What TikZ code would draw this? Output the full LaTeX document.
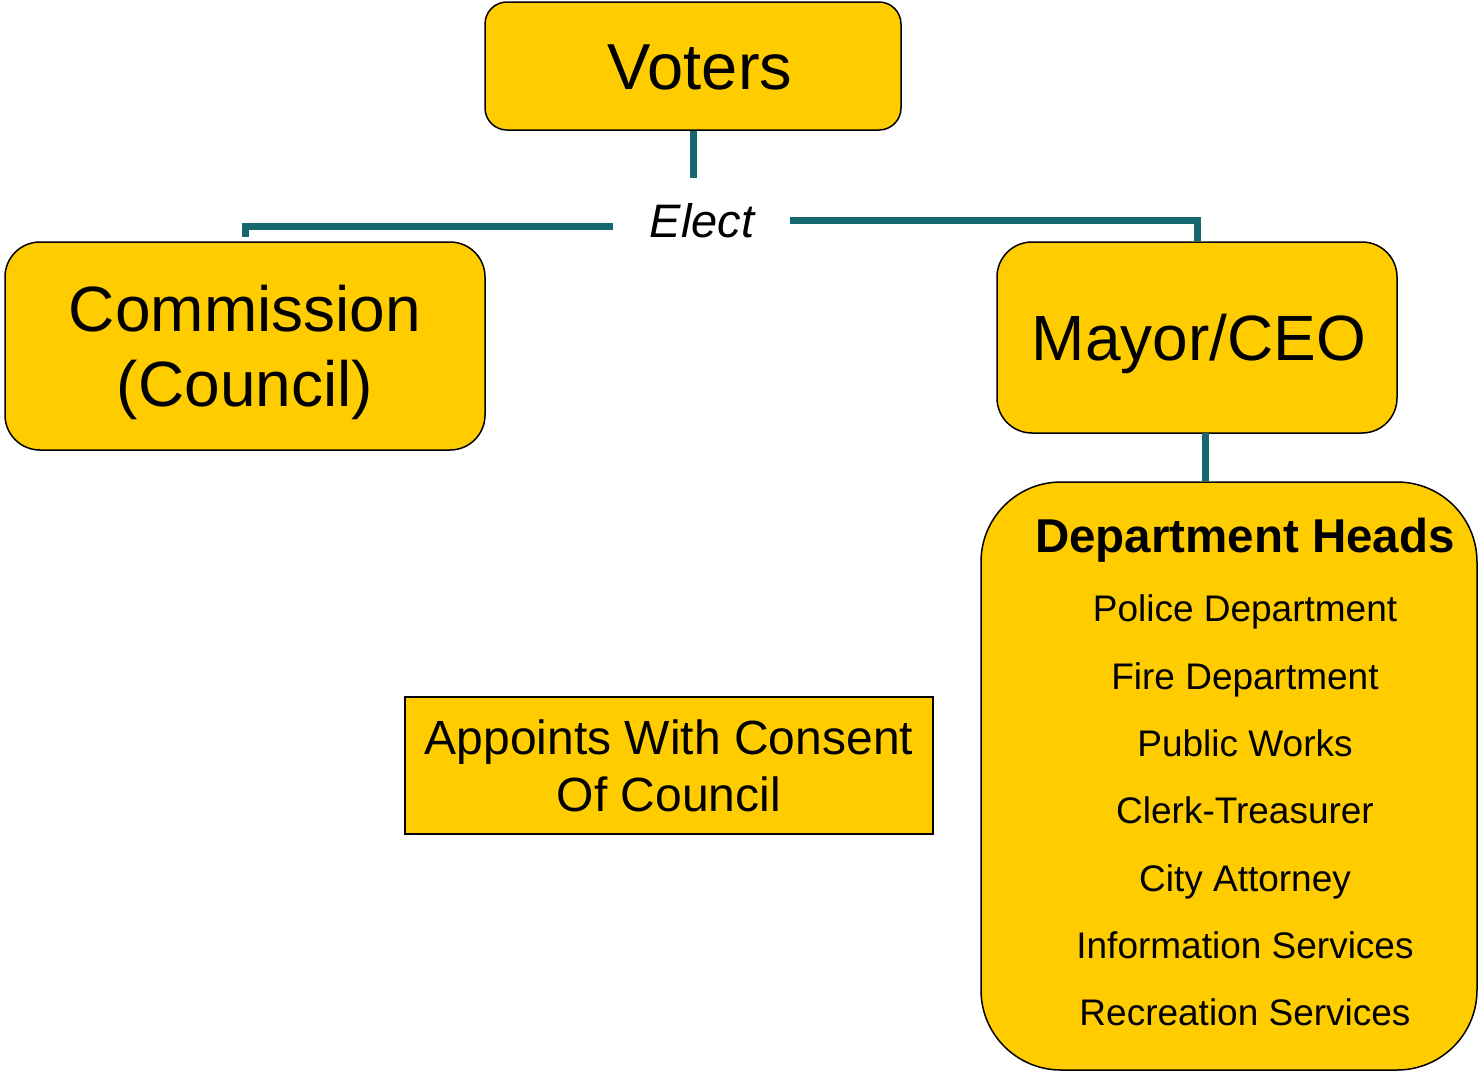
\documentclass[tikz,border=0pt]{standalone}
\usepackage{fontspec}
\setmainfont{Liberation Sans}
\definecolor{boxfill}{RGB}{255,204,0}
\definecolor{teal}{RGB}{22,104,110}
\begin{document}
\begin{tikzpicture}[x=1pt,y=-1pt,
  box/.style={draw=black, line width=1.5pt, fill=boxfill, rounded corners=#1, inner sep=0pt, align=center, text depth=0pt},
  box/.default=22pt,
  link/.style={draw=teal, line width=7pt},
  item/.style={font=\fontsize{37}{44}\selectfont, inner sep=0pt, text height=26.5pt, text depth=0pt}]
\useasboundingbox (0,0) rectangle (1481,1072);
\node[box=22pt, minimum width=416pt, minimum height=128pt, text height=46.5pt, font=\fontsize{65}{75}\selectfont] (voters) at (693,66) {\hspace*{14pt}Voters};
\node[box=35pt, minimum width=480pt, minimum height=208pt, text height=120.8pt, font=\fontsize{64}{75}\selectfont] (comm) at (245,346) {Commission\\(Council)};
\node[box=35pt, minimum width=400pt, minimum height=191pt, text height=45.8pt, font=\fontsize{64}{75}\selectfont] (mayor) at (1197,337.5) {\hspace*{4pt}Mayor/CEO};
\node[box=80pt, minimum width=496pt, minimum height=588pt] (dept) at (1229,776) {};
\node[draw=black, line width=2pt, fill=boxfill, minimum width=528pt, minimum height=137pt, inner sep=0pt, align=center, text height=91.4pt, text depth=0pt, font=\fontsize{48}{57}\selectfont] (appt) at (669,765.5) {Appoints With Consent\\Of Council};
\node[font=\fontsize{47}{47}\itshape\selectfont, inner sep=0pt, text height=33.7pt, text depth=0pt] (elect) at (702,220.5) {Elect};
\node[font=\fontsize{47.5}{50}\bfseries\selectfont, inner sep=0pt, text height=34pt, text depth=0pt] (dh) at (1245,535) {Department Heads};
\node[item] (i1) at (1245,608.5) {Police Department};
\node[item] (i2) at (1245,676) {Fire Department};
\node[item] (i3) at (1245,743) {Public Works};
\node[item] (i4) at (1245,810) {Clerk-Treasurer};
\node[item] (i5) at (1245,878) {City Attorney};
\node[item] (i6) at (1245,945) {Information Services};
\node[item] (i7) at (1245,1012) {Recreation Services};
% connectors
\coordinate (vend) at (693,178);
\coordinate (lend) at (613,226);
\coordinate (rend) at (790,220);
\coordinate (mtop) at (1205,433);
\draw[link] (voters.south) -- (vend);
\draw[link] (lend) -| ([yshift=4pt]comm.north);
\draw[link] (rend) -| (mayor.north);
\draw[link] (mtop) -- (mtop |- dept.north);
\end{tikzpicture}
\end{document}
